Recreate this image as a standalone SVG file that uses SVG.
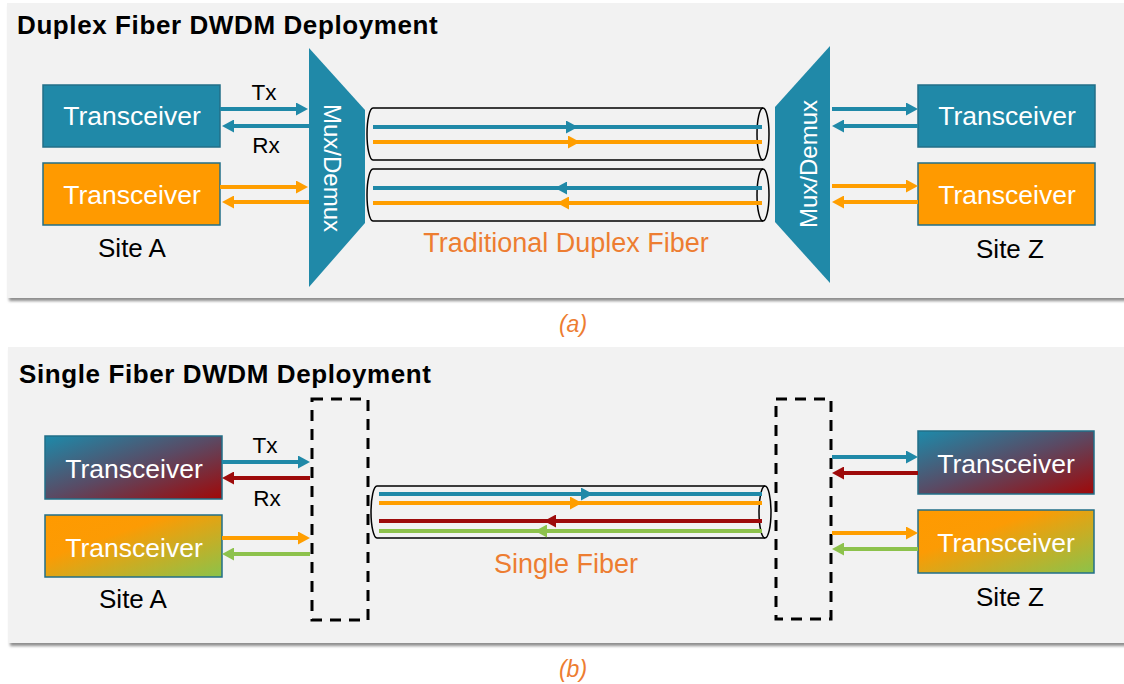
<svg xmlns="http://www.w3.org/2000/svg" width="1124" height="684" viewBox="0 0 1124 684">
  <defs>
    <style>
      .panel { fill: #F2F2F2; }
      .shadow { fill: #8c8c8c; }
      .title { font-family: "Liberation Sans", Arial, sans-serif; font-weight: bold; font-size: 26px; letter-spacing: 0.6px; fill: #000; }
      .xcvr { stroke: #226F88; stroke-width: 1.5; }
      .xcvr-text { font-family: "Liberation Sans", Arial, sans-serif; font-size: 26.5px; fill: #fff; text-anchor: middle; }
      .mux { fill: #2089A8; }
      .mux-text { font-family: "Liberation Sans", Arial, sans-serif; font-size: 24px; fill: #fff; text-anchor: middle; }
      .site { font-family: "Liberation Sans", Arial, sans-serif; font-size: 26px; fill: #000; text-anchor: middle; }
      .txrx { font-family: "Liberation Sans", Arial, sans-serif; font-size: 22.5px; fill: #000; text-anchor: middle; }
      .fiber-label { font-family: "Liberation Sans", Arial, sans-serif; font-size: 27px; fill: #ED7D31; text-anchor: middle; }
      .caption { font-family: "Liberation Sans", Arial, sans-serif; font-size: 23px; font-style: italic; fill: #ED7D31; text-anchor: middle; }
      .tube { fill: none; stroke: #000; stroke-width: 1.5; }
      .dashbox { fill: none; stroke: #000; stroke-width: 3; stroke-dasharray: 11 8; }
      .ln { fill: none; stroke-width: 4; }
      .teal { stroke: #2089A8; }
      .orange { stroke: #FF9E00; }
      .red { stroke: #9E0B0B; }
      .green { stroke: #8DC24C; }
      .teal.a { marker-end: url(#ah-teal); }
      .orange.a { marker-end: url(#ah-orange); }
      .red.a { marker-end: url(#ah-red); }
      .green.a { marker-end: url(#ah-green); }
      .teal.m { marker-mid: url(#ah-teal); }
      .orange.m { marker-mid: url(#ah-orange); }
      .red.m { marker-mid: url(#ah-red); }
      .green.m { marker-mid: url(#ah-green); }
    </style>
    <filter id="soft" x="-5%" y="-20%" width="110%" height="140%">
      <feGaussianBlur stdDeviation="1.6"/>
    </filter>
    <linearGradient id="grad-tr" x1="0" y1="0" x2="1" y2="1">
      <stop offset="0" stop-color="#1D8AAA"/>
      <stop offset="0.5" stop-color="#5A4A64"/>
      <stop offset="1" stop-color="#A00808"/>
    </linearGradient>
    <linearGradient id="grad-og" x1="0" y1="0" x2="1" y2="1">
      <stop offset="0" stop-color="#FF9A00"/>
      <stop offset="0.35" stop-color="#FC9B04"/>
      <stop offset="1" stop-color="#8BC34A"/>
    </linearGradient>
    <marker id="ah-teal" viewBox="0 0 12 13" refX="0" refY="6.5" markerWidth="12" markerHeight="13" markerUnits="userSpaceOnUse" orient="auto">
      <path d="M0,0 L12,6.5 L0,13 Z" fill="#2089A8"/>
    </marker>
    <marker id="ah-orange" viewBox="0 0 12 13" refX="0" refY="6.5" markerWidth="12" markerHeight="13" markerUnits="userSpaceOnUse" orient="auto">
      <path d="M0,0 L12,6.5 L0,13 Z" fill="#FF9E00"/>
    </marker>
    <marker id="ah-red" viewBox="0 0 12 13" refX="0" refY="6.5" markerWidth="12" markerHeight="13" markerUnits="userSpaceOnUse" orient="auto">
      <path d="M0,0 L12,6.5 L0,13 Z" fill="#9E0B0B"/>
    </marker>
    <marker id="ah-green" viewBox="0 0 12 13" refX="0" refY="6.5" markerWidth="12" markerHeight="13" markerUnits="userSpaceOnUse" orient="auto">
      <path d="M0,0 L12,6.5 L0,13 Z" fill="#8DC24C"/>
    </marker>
  </defs>

  <rect width="1124" height="684" fill="#fff"/>

  <!-- Panel (a): duplex fiber -->
  <g id="panel-a">
    <rect class="shadow" x="9" y="6" width="1130" height="295" filter="url(#soft)"/>
    <rect class="panel" x="7" y="3" width="1130" height="295"/>
    <text class="title" x="17" y="34">Duplex Fiber DWDM Deployment</text>
  </g>

  <!-- Panel (b): single fiber -->
  <g id="panel-b">
    <rect class="shadow" x="10" y="350" width="1130" height="296" filter="url(#soft)"/>
    <rect class="panel" x="8" y="347" width="1130" height="296"/>
    <text class="title" x="19" y="383">Single Fiber DWDM Deployment</text>
  </g>

  <!-- Site A / Site Z transceivers, duplex -->
  <g id="a-xcvr-a1">
    <rect class="xcvr" x="43" y="85" width="177" height="62" fill="#2089A8"/>
    <text class="xcvr-text" x="132" y="125">Transceiver</text>
  </g>
  <g id="a-xcvr-a2">
    <rect class="xcvr" x="43" y="163" width="177" height="62" fill="#FF9A00"/>
    <text class="xcvr-text" x="132" y="204">Transceiver</text>
  </g>
  <text id="a-site-a" class="site" x="132" y="257">Site A</text>

  <g id="a-xcvr-z1">
    <rect class="xcvr" x="918" y="85" width="177" height="62" fill="#2089A8"/>
    <text class="xcvr-text" x="1007" y="125">Transceiver</text>
  </g>
  <g id="a-xcvr-z2">
    <rect class="xcvr" x="918" y="163" width="177" height="62" fill="#FF9A00"/>
    <text class="xcvr-text" x="1007" y="204">Transceiver</text>
  </g>
  <text id="a-site-z" class="site" x="1010" y="258">Site Z</text>

  <!-- Mux/Demux trapezoids -->
  <g id="a-mux-a">
    <polygon class="mux" points="309,48 365,110 365,223 309,287"/>
    <text class="mux-text" transform="translate(332,168) rotate(90)" x="0" y="8.5">Mux/Demux</text>
  </g>
  <g id="a-mux-z">
    <polygon class="mux" points="830,46 775,107 775,222 830,283"/>
    <text class="mux-text" transform="translate(808,164) rotate(-90)" x="0" y="8.5">Mux/Demux</text>
  </g>

  <!-- Duplex fiber pair -->
  <g id="a-fiber-1">
    <path class="tube" d="M373,108 L763,108 M763,160 L373,160 A6,26 0 0 1 373,108"/>
    <ellipse class="tube" cx="763" cy="134" rx="6" ry="26"/>
  </g>
  <g id="a-fiber-2">
    <path class="tube" d="M373,169 L763,169 M763,221 L373,221 A6,26 0 0 1 373,169"/>
    <ellipse class="tube" cx="763" cy="195" rx="6" ry="26"/>
  </g>
  <text id="a-fiber-label" class="fiber-label" x="566" y="252">Traditional Duplex Fiber</text>

  <!-- Single fiber and passive filter boxes -->
  <g id="b-filter-a">
    <rect class="dashbox" x="312" y="399" width="56" height="221"/>
  </g>
  <g id="b-filter-z">
    <rect class="dashbox" x="776" y="399" width="55" height="220"/>
  </g>
  <g id="b-fiber">
    <path class="tube" d="M377,486 L765,486 M765,538 L377,538 A6,26 0 0 1 377,486"/>
    <ellipse class="tube" cx="765" cy="512" rx="6" ry="26"/>
  </g>
  <text id="b-fiber-label" class="fiber-label" x="566" y="573">Single Fiber</text>

  <g id="b-xcvr-a1">
    <rect class="xcvr" x="45" y="436" width="177" height="63" fill="url(#grad-tr)"/>
    <text class="xcvr-text" x="134" y="478">Transceiver</text>
  </g>
  <g id="b-xcvr-a2">
    <rect class="xcvr" x="45" y="515" width="177" height="62" fill="url(#grad-og)"/>
    <text class="xcvr-text" x="134" y="557">Transceiver</text>
  </g>
  <text id="b-site-a" class="site" x="133" y="608">Site A</text>

  <g id="b-xcvr-z1">
    <rect class="xcvr" x="918" y="431" width="176" height="63" fill="url(#grad-tr)"/>
    <text class="xcvr-text" x="1006" y="473">Transceiver</text>
  </g>
  <g id="b-xcvr-z2">
    <rect class="xcvr" x="918" y="510" width="176" height="63" fill="url(#grad-og)"/>
    <text class="xcvr-text" x="1006" y="552">Transceiver</text>
  </g>
  <text id="b-site-z" class="site" x="1010" y="606">Site Z</text>

  <!-- Connector labels -->
  <text class="txrx" x="264" y="100">Tx</text>
  <text class="txrx" x="266" y="153">Rx</text>
  <text class="txrx" x="265" y="453">Tx</text>
  <text class="txrx" x="267" y="506">Rx</text>

  <!-- Connectors and in-fiber signal paths -->
  <g id="connectors">
    <!-- duplex, site A side -->
    <path class="ln teal a" d="M220,109 L296,109"/>
    <path class="ln teal a" d="M309,126 L234,126"/>
    <path class="ln orange a" d="M220,187 L296,187"/>
    <path class="ln orange a" d="M309,202 L234,202"/>
    <!-- duplex, site Z side -->
    <path class="ln teal a" d="M832,109 L906,109"/>
    <path class="ln teal a" d="M918,126 L844,126"/>
    <path class="ln orange a" d="M832,186 L906,186"/>
    <path class="ln orange a" d="M918,202 L844,202"/>
    <!-- duplex fibers -->
    <path class="ln teal m" d="M373,127 L566,127 L762,127"/>
    <path class="ln orange m" d="M373,142 L568,142 L762,142"/>
    <path class="ln teal m" d="M762,188 L567,188 L373,188"/>
    <path class="ln orange m" d="M762,203 L569,203 L373,203"/>
    <!-- single fiber, site A side -->
    <path class="ln teal a" d="M222,462 L298,462"/>
    <path class="ln red a" d="M310,478 L234,478"/>
    <path class="ln orange a" d="M222,538 L298,538"/>
    <path class="ln green a" d="M310,554 L234,554"/>
    <!-- single fiber, site Z side -->
    <path class="ln teal a" d="M832,457 L906,457"/>
    <path class="ln red a" d="M918,473 L844,473"/>
    <path class="ln orange a" d="M832,533 L906,533"/>
    <path class="ln green a" d="M918,549 L844,549"/>
    <!-- single fiber strands -->
    <path class="ln teal m" d="M379,494 L581,494 L762,494"/>
    <path class="ln orange m" d="M379,503 L570,503 L762,503"/>
    <path class="ln red m" d="M762,521 L556,521 L379,521"/>
    <path class="ln green m" d="M762,531 L547,531 L379,531"/>
  </g>

  <!-- Captions -->
  <text class="caption" x="573" y="332">(a)</text>
  <text class="caption" x="573" y="677">(b)</text>
</svg>
